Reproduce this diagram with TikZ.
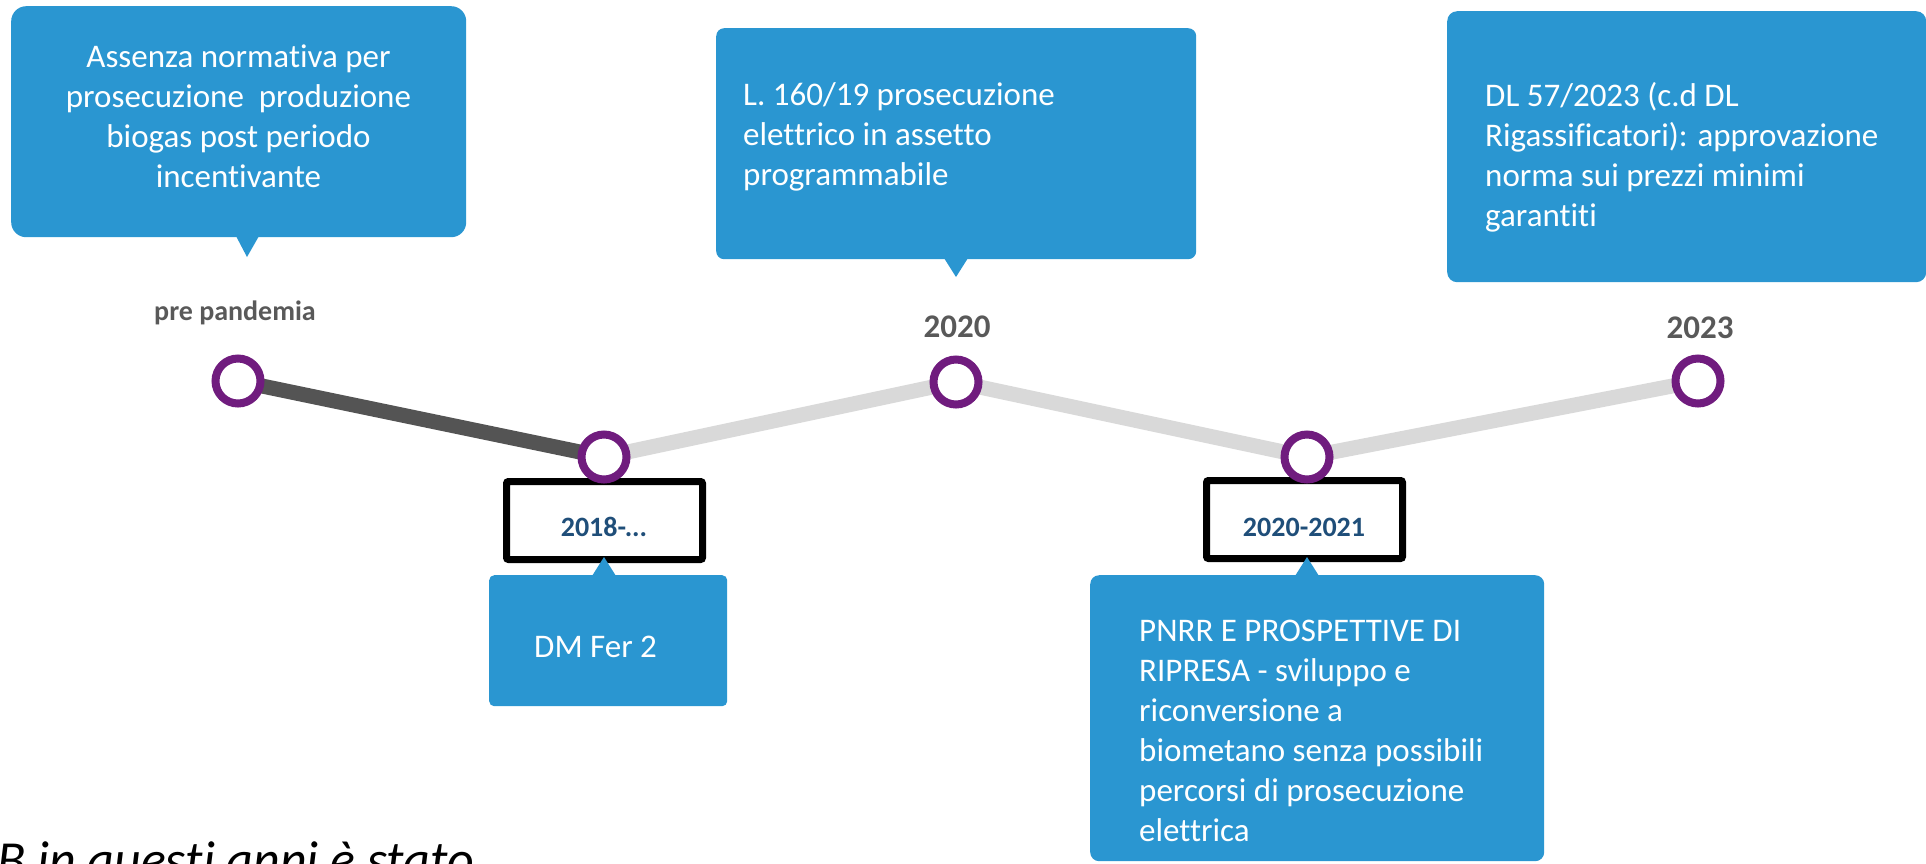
\documentclass[tikz,border=0pt]{standalone}
\usepackage{fontspec}
\setmainfont{Carlito}[Ligatures={NoCommon}]
\pgfdeclarelayer{background}
\pgfsetlayers{background,main}
\definecolor{boxblue}{HTML}{2A96D1}
\definecolor{ringpurple}{HTML}{701C7E}
\definecolor{darkline}{HTML}{545454}
\definecolor{lightline}{HTML}{D9D9D9}
\definecolor{yeargray}{HTML}{595959}
\definecolor{labelblue}{HTML}{1F4E79}
\begin{document}
\begin{tikzpicture}[x=1pt,y=-1pt,
  calloutbox/.style={fill=boxblue, draw=none, inner sep=0pt, anchor=north west},
  bodytext/.style={text=white, font=\fontsize{33}{40}\selectfont, inner sep=0pt, align=left, anchor=north west},
  ring/.style={circle, draw=ringpurple, line width=8pt, fill=white, minimum size=45pt, inner sep=0pt, outer sep=0pt},
  yearlabel/.style={text=yeargray, font=\fontsize{33}{40}\selectfont\bfseries, inner sep=0pt, anchor=base},
  periodbox/.style={draw=black, line width=7pt, rounded corners=2pt, fill=white, minimum width=196pt, minimum height=78pt, inner sep=0pt},
  periodlabel/.style={text=labelblue, font=\fontsize{28}{34}\selectfont\bfseries, inner sep=0pt, anchor=base},
  darkseg/.style={draw=darkline, line width=15pt},
  lightseg/.style={draw=lightline, line width=15pt}
]
\useasboundingbox (0,0) rectangle (1926,863);

% callout 1
\node[calloutbox, rounded corners=15pt, minimum width=455pt, minimum height=231pt] (b1) at (11,6) {};
\fill[boxblue] (236,236) -- (259,236) -- (247,257) -- cycle;
\node[bodytext, anchor=north, align=center] (t1) at (238.5,37) {\rule{0pt}{30pt}Assenza normativa per\\prosecuzione~ produzione\\biogas post periodo\\incentivante};

% callout 2
\node[calloutbox, rounded corners=8pt, minimum width=480pt, minimum height=231pt] (b2) at (716,28) {};
\fill[boxblue] (944,258) -- (968,258) -- (956,277) -- cycle;
\node[bodytext] (t2) at (743,75) {\rule{0pt}{30pt}L. 160/19 prosecuzione\\elettrico in assetto\\programmabile};

% callout 3
\node[calloutbox, rounded corners=10pt, minimum width=479pt, minimum height=271pt] (b3) at (1447,11) {};
\node[bodytext] (t3) at (1485,76) {\rule{0pt}{30pt}DL 57/2023 (c.d DL\\Rigassificatori): approvazione\\norma sui prezzi minimi\\garantiti};

% year labels
\node[text=yeargray, font=\fontsize{28}{32}\selectfont\bfseries, inner sep=0pt, anchor=base] (lpre) at (235,320) {pre pandemia};
\node[yearlabel] (l2020) at (957,337) {2020};
\node[yearlabel] (l2023) at (1700,338) {2023};

% period boxes
\node[periodbox] (r2018) at (604.5,520.5) {};
\node[periodlabel] (l2018) at (604,536) {2018-...};
\node[periodbox] (r2021) at (1304.5,519.5) {};
\node[periodlabel] (l2021) at (1304,536) {2020-2021};

% lower callouts
\node[calloutbox, rounded corners=5pt, minimum width=238pt, minimum height=131pt] (b4) at (489,575) {};
\fill[boxblue] (592,576) -- (616,576) -- (604,557) -- cycle;
\node[bodytext] (t4) at (534,627) {\rule{0pt}{30pt}DM Fer 2};

\node[calloutbox, rounded corners=9pt, minimum width=454pt, minimum height=286pt] (b5) at (1090,575) {};
\fill[boxblue] (1295,576) -- (1319,576) -- (1307,557) -- cycle;
\node[bodytext] (t5) at (1139,611) {\rule{0pt}{30pt}PNRR E PROSPETTIVE DI\\RIPRESA - sviluppo e\\riconversione a\\biometano senza possibili\\percorsi di prosecuzione\\elettrica};

% timeline points
\node[ring] (p0) at (238,381) {};
\node[ring] (p1) at (604,457) {};
\node[ring] (p2) at (956,382) {};
\node[ring] (p3) at (1307,457) {};
\node[ring] (p4) at (1698,381) {};

\begin{pgfonlayer}{background}
\draw[darkseg] (p0.center) -- (p1.center);
\draw[lightseg] (p1.center) -- (p2.center);
\draw[lightseg] (p2.center) -- (p3.center);
\draw[lightseg] (p3.center) -- (p4.center);
\end{pgfonlayer}

% cut-off note at bottom
\node[anchor=base west, inner sep=0pt, font=\fontsize{52}{60}\selectfont\itshape] (note) at (-3,877) {B in questi anni è stato};
\end{tikzpicture}
\end{document}
